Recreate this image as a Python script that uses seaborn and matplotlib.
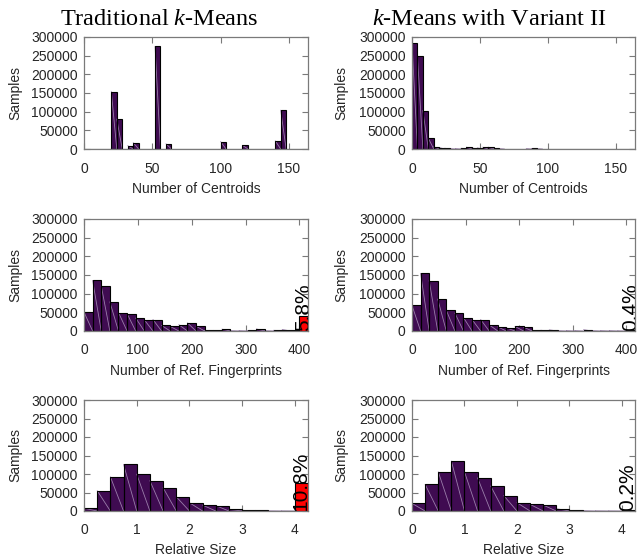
import numpy as np
import pandas as pd
import matplotlib
matplotlib.use("Agg")
import matplotlib.pyplot as plt
import seaborn as sns

sns.set_style("ticks")
plt.rcParams['font.family'] = ['Liberation Sans', 'DejaVu Sans']
plt.rcParams['mathtext.fontset'] = 'custom'
plt.rcParams['mathtext.rm'] = 'Liberation Serif'
plt.rcParams['mathtext.it'] = 'Liberation Serif:italic'

# ---------------- data ----------------
titles = ["Traditional $k$-Means", "$k$-Means with Variant II"]
xlabels = ["Number of Centroids", "Number of Ref. Fingerprints", "Relative Size"]
ylabel = "Samples"

# Row 1: number of centroids (bin width 4)
centroid_bin_width = 4
centroid_xmax = 164
tl_bins = [20, 24, 32, 36, 52, 60, 100, 116, 140, 144]
tl_counts = [154000, 80000, 9000, 17000, 275000, 14000, 20000, 10000, 22000, 104000]
tr_bins = [0, 4, 8, 12, 16, 20, 24, 28, 32, 36, 40, 44, 48, 52, 56, 60, 64, 84, 88, 92]
tr_counts = [284000, 250000, 103000, 29000, 6000, 4000, 2000, 1000, 1000, 2000,
             5000, 3000, 3000, 5000, 5000, 2000, 1000, 1000, 1500, 1000]

# Row 2: number of reference fingerprints (bin width 16, overflow bin at 400)
fp_bin_width = 16
fp_max = 400
ml_counts = [50500, 135500, 121000, 78000, 49500, 46500, 34800, 30000, 30800, 15000,
             12500, 17000, 21800, 13000, 1500, 1500, 5000, 1000, 1000, 1500,
             5500, 1000, 2000, 4000, 1500]
ml_over = 41000
mr_counts = [68500, 154500, 135000, 85500, 55500, 48000, 36000, 30700, 30800, 16500,
             11000, 8500, 12500, 10500, 1500, 2000, 3000, 1000, 1000, 1000,
             3500, 1000, 1000, 1000, 500]
mr_over = 3000

# Row 3: relative size (bin width 0.25, overflow bin at 4)
rs_bin_width = 0.25
rs_max = 4
bl_counts = [7500, 55000, 92500, 126000, 99500, 82000, 63000, 38500, 22500, 16000,
             14500, 4500, 2000, 1500, 500, 300]
bl_over = 76500
br_counts = [20500, 72000, 106000, 135000, 106000, 89500, 67500, 41500, 22500, 18000,
             16000, 6300, 1500, 1000, 500, 300]
br_over = 1500

overflow_labels = [["5.8%", "0.4%"], ["10.8%", "0.2%"]]

xticks = [[0, 50, 100, 150], [0, 100, 200, 300, 400], [0, 1, 2, 3, 4]]
yticks = [0, 50000, 100000, 150000, 200000, 250000, 300000]

# ---------------- style ----------------
BAR = '#3f0b51'
DIAG = '#9a7eaa'
FRAME = '#7a7a7a'
TXT = '#262626'

W, H = 637, 559
fig = plt.figure(figsize=(W / 100, H / 100), dpi=100)

col_px = [(84, 224), (412, 223)]
row_px = [(37, 112), (219, 112), (400, 111)]


def make_ax(r, c):
    x0, w = col_px[c]
    y0, h = row_px[r]
    return fig.add_axes([x0 / W, 1 - (y0 + h) / H, w / W, h / H])


def draw_hist(ax, lefts, weights, width, edges, color):
    lefts = np.asarray(lefts, float)
    weights = np.asarray(weights, float)
    df = pd.DataFrame({"x": lefts + width / 2, "w": weights})
    edges = [float(e) for e in edges]
    sns.histplot(data=df, x="x", weights="w", bins=edges, ax=ax, color=color,
                 linewidth=0, alpha=1, zorder=1)
    # faint diagonal (top-left -> bottom-right) inside every bar
    xs, ys = [], []
    for l, h in zip(lefts, weights):
        if h > 0:
            xs += [l, l + width, np.nan]
            ys += [h, 0, np.nan]
    ax.plot(xs, ys, color=DIAG, lw=0.6, zorder=2)
    sns.histplot(data=df, x="x", weights="w", bins=edges, ax=ax, fill=False,
                 color='black', linewidth=0.8, zorder=3)


def style_ax(ax, r, xlim):
    ax.set_xlim(*xlim)
    ax.set_ylim(0, 300000)
    ax.set_xticks(xticks[r])
    ax.set_yticks(yticks)
    ax.set_xticklabels([str(t) for t in xticks[r]])
    ax.set_yticklabels([str(t) for t in yticks])
    ax.tick_params(direction='in', top=True, right=True, length=4, width=0.8,
                   color=FRAME, labelcolor=TXT, labelsize=10)
    ax.tick_params(axis='x', pad=9)
    ax.tick_params(axis='y', pad=4.5)
    for s in ax.spines.values():
        s.set_color(FRAME)
        s.set_linewidth(0.9)
        s.set_zorder(5)
    ax.set_xlabel(xlabels[r], fontsize=10, color=TXT)
    ax.set_ylabel(ylabel, fontsize=10, color=TXT)
    h = row_px[r][1]
    ax.xaxis.set_label_coords(0.5, -32.5 / h)


# Row 1
c_edges = list(range(0, centroid_xmax + centroid_bin_width, centroid_bin_width))
for c, (bins, counts) in enumerate([(tl_bins, tl_counts), (tr_bins, tr_counts)]):
    ax = make_ax(0, c)
    draw_hist(ax, bins, counts, centroid_bin_width, c_edges, BAR)
    style_ax(ax, 0, (0, centroid_xmax))

# Rows 2 and 3
row_defs = [
    (1, fp_bin_width, fp_max, [(ml_counts, ml_over), (mr_counts, mr_over)]),
    (2, rs_bin_width, rs_max, [(bl_counts, bl_over), (br_counts, br_over)]),
]
for r, bw, vmax, pairs in row_defs:
    edges = np.arange(len(pairs[0][0]) + 1) * bw
    for c, (counts, over) in enumerate(pairs):
        ax = make_ax(r, c)
        draw_hist(ax, edges[:-1], counts, bw, edges, BAR)
        odf = pd.DataFrame({"x": [vmax + bw / 2], "w": [float(over)]})
        sns.histplot(data=odf, x="x", weights="w", bins=[float(vmax), float(vmax + bw)], ax=ax,
                     color='#ff0000', edgecolor='black', linewidth=0.8, alpha=1, zorder=3)
        style_ax(ax, r, (0, vmax + bw))
        ax.text(vmax + bw * 0.45, 0, overflow_labels[r - 1][c], rotation=90,
                ha='center', va='bottom', fontsize=15, color='black',
                clip_on=True, zorder=4)

# y-label positions
for i, ax in enumerate(fig.axes):
    c = i % 2
    x0, w = col_px[c]
    right_edge = 22 if c == 0 else 348
    ax.yaxis.set_label_coords((right_edge - x0) / w, 0.5)

# Titles
fig.text(159 / W, 1 - 25 / H, titles[0], ha='center', va='baseline', fontsize=17.5,
         family='Liberation Serif', color='black')
fig.text(489 / W, 1 - 25 / H, titles[1], ha='center', va='baseline', fontsize=17.5,
         family='Liberation Serif', color='black')

fig.savefig("out.png", dpi=100)
